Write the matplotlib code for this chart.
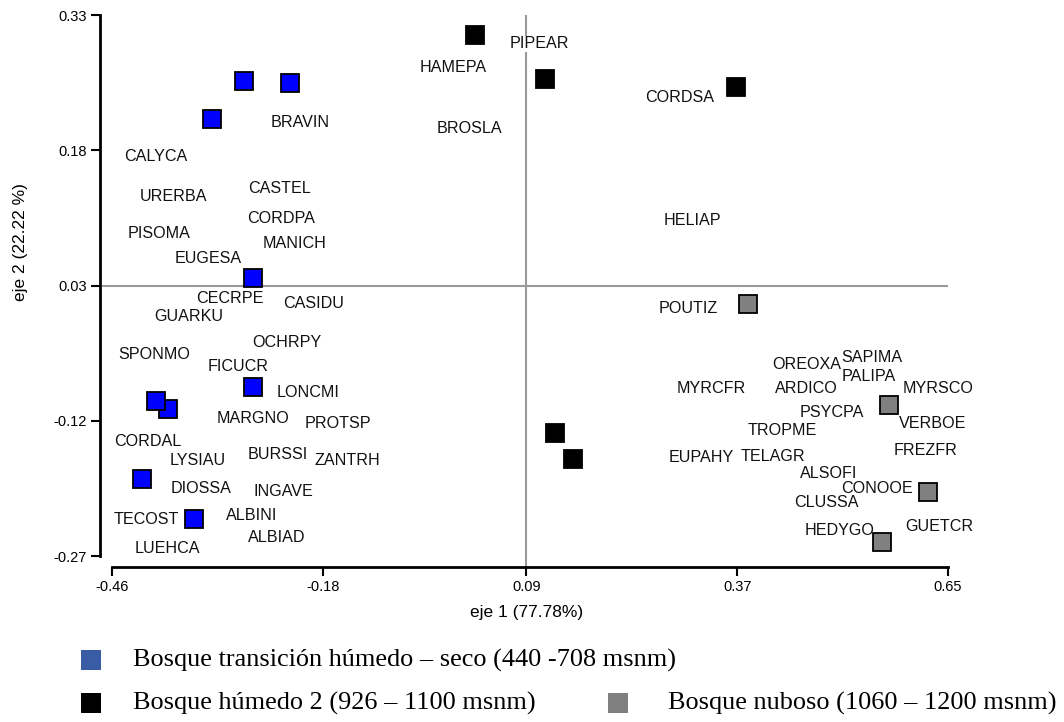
import matplotlib
matplotlib.use("Agg")
import matplotlib.pyplot as plt
from matplotlib.lines import Line2D

plt.rcParams['font.family'] = ['Liberation Sans', 'DejaVu Sans']

# site scores, one list per forest type
transicion_x = [-0.285, -0.224, -0.327, -0.273, -0.273, -0.386, -0.402, -0.420, -0.351]
transicion_y = [0.257, 0.255, 0.215, 0.038, -0.082, -0.107, -0.098, -0.184, -0.229]
humedo_x = [0.022, 0.115, 0.369, 0.128, 0.152]
humedo_y = [0.308, 0.259, 0.250, -0.133, -0.162]
nuboso_x = [0.385, 0.571, 0.624, 0.563]
nuboso_y = [0.010, -0.102, -0.199, -0.254]

# species scores
especies = ["BRAVIN", "CALYCA", "URERBA", "CASTEL", "CORDPA", "PISOMA", "MANICH",
            "EUGESA", "CECRPE", "CASIDU", "GUARKU", "OCHRPY", "SPONMO", "FICUCR",
            "LONCMI", "MARGNO", "PROTSP", "CORDAL", "LYSIAU", "BURSSI", "ZANTRH",
            "DIOSSA", "INGAVE", "TECOST", "ALBINI", "ALBIAD", "LUEHCA", "PIPEAR",
            "HAMEPA", "CORDSA", "BROSLA", "HELIAP", "POUTIZ", "OREOXA", "SAPIMA",
            "PALIPA", "MYRCFR", "ARDICO", "MYRSCO", "PSYCPA", "VERBOE", "TROPME",
            "FREZFR", "EUPAHY", "TELAGR", "ALSOFI", "CONOOE", "CLUSSA", "HEDYGO",
            "GUETCR"]
especies_x = [-0.210, -0.402, -0.378, -0.237, -0.236, -0.398, -0.217,
              -0.333, -0.303, -0.193, -0.358, -0.228, -0.404, -0.293,
              -0.200, -0.273, -0.160, -0.412, -0.346, -0.240, -0.147,
              -0.342, -0.233, -0.414, -0.275, -0.242, -0.386, 0.108,
              -0.007, 0.294, 0.014, 0.310, 0.305, 0.462, 0.549,
              0.545, 0.336, 0.462, 0.637, 0.496, 0.629, 0.430,
              0.620, 0.322, 0.418, 0.491, 0.555, 0.488, 0.506,
              0.638]
especies_y = [0.211, 0.173, 0.129, 0.138, 0.104, 0.088, 0.077,
              0.060, 0.016, 0.010, -0.004, -0.033, -0.046, -0.060,
              -0.089, -0.117, -0.123, -0.143, -0.164, -0.157, -0.164,
              -0.195, -0.198, -0.229, -0.225, -0.249, -0.262, 0.298,
              0.272, 0.238, 0.204, 0.102, 0.005, -0.057, -0.050,
              -0.071, -0.084, -0.084, -0.084, -0.111, -0.123, -0.131,
              -0.153, -0.161, -0.159, -0.178, -0.195, -0.211, -0.242,
              -0.237]

xticks = [-0.46, -0.18, 0.09, 0.37, 0.65]
yticks = [-0.27, -0.12, 0.03, 0.18, 0.33]
xcentro = 0.09
ycentro = 0.03

grupos = ["Bosque transición húmedo – seco (440 -708 msnm)",
          "Bosque húmedo 2 (926 – 1100 msnm)",
          "Bosque nuboso (1060 – 1200 msnm)"]

W, H = 1064, 722
fig = plt.figure(figsize=(W / 100, H / 100), dpi=100)
ax = fig.add_axes([100 / W, 1 - 567 / H, 848 / W, 552 / H])

xmin = xticks[0] - 0.016
ymin = yticks[0] - 0.012
ax.set_xlim(xmin, xticks[-1])
ax.set_ylim(ymin, yticks[-1])

# cross through the centroid
ax.plot([xmin, xticks[-1]], [ycentro, ycentro], color="#999999", lw=1.5, zorder=1)
ax.plot([xcentro, xcentro], [ymin, yticks[-1]], color="#999999", lw=1.5, zorder=1)

for nombre, x, y in zip(especies, especies_x, especies_y):
    ax.text(x, y, nombre, ha="center", va="center", fontsize=11.6, color="#111111",
            zorder=2, bbox=dict(facecolor="white", edgecolor="none", pad=0.3))

kw = dict(marker="s", ls="none", ms=13.5, mew=1.3, mec="black", zorder=3, clip_on=False)
ax.plot(transicion_x, transicion_y, mfc="#0000ff", **kw)
ax.plot(humedo_x, humedo_y, mfc="black", **kw)
ax.plot(nuboso_x, nuboso_y, mfc="#808080", **kw)

for s in ["top", "right"]:
    ax.spines[s].set_visible(False)
for s in ["left", "bottom"]:
    ax.spines[s].set_linewidth(2)
ax.spines["left"].set_bounds(yticks[0], yticks[-1])
ax.spines["bottom"].set_bounds(xticks[0], xticks[-1])
ax.spines["left"].set_position(("data", xmin))
ax.spines["bottom"].set_position(("data", ymin))

ax.set_xticks(xticks)
ax.set_yticks(yticks)
ax.set_xticklabels([f"{v:.2f}" for v in xticks])
ax.set_yticklabels([f"{v:.2f}" for v in yticks])
ax.tick_params(length=6.5, width=1.5, labelsize=10.5, pad=3)

fig.text(527 / W, 1 - 612 / H, "eje 1 (77.78%)", ha="center", va="center", fontsize=12.5)
fig.text(21 / W, 1 - 242 / H, "eje 2 (22.22 %)", ha="center", va="center",
         fontsize=12.5, rotation=90)

# legend drawn by hand: one group on the first row, two on the second
leyenda = [(91, 660, "#3a5ca6", grupos[0], 133),
           (91, 703, "black", grupos[1], 133),
           (618, 703, "#808080", grupos[2], 668)]
for mx, my, color, texto, tx in leyenda:
    fig.add_artist(Line2D([mx / W], [1 - my / H], marker="s", ms=15, mew=0,
                          mfc=color, ls="none", transform=fig.transFigure))
    fig.text(tx / W, 1 - my / H, texto, ha="left", va="center", fontsize=18.9,
             family=["Liberation Serif", "DejaVu Serif"])

fig.savefig("out.png", dpi=100)
